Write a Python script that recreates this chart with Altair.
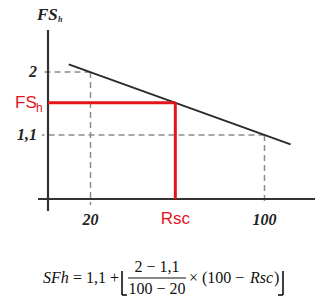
import altair as alt
import pandas as pd

# ---- data ----
x_ticks = [20, 100]
x_tick_labels = ["20", "100"]
y_ticks = [2, 1.1]
y_tick_labels = ["2", "1,1"]
rsc = 59
fsh = 1.56
line_x = [10, 112]
line_y = [2.11, 0.965]

W, H = 326, 302
XS = alt.Scale(domain=[-21.61, 128.28], nice=False, zero=False)
YS = alt.Scale(domain=[-1.2857, 3.0286], nice=False, zero=False)

def X(f):
    return alt.X(f, scale=XS, axis=None)

def Y(f):
    return alt.Y(f, scale=YS, axis=None)

RED = "#e3141c"
GRAY = "#8c8c8c"
DARK = "#2a2a2a"
SERIF = "Liberation Serif"
SANS = "Liberation Sans"

one = pd.DataFrame({"a": [0]})

def txt(text, x, y, size, font=SERIF, style="normal", weight="normal",
        color="#111", align="left", baseline="middle"):
    return alt.Chart(one).mark_text(
        text=text, font=font, fontSize=size, fontStyle=style, fontWeight=weight,
        color=color, align=align, baseline=baseline
    ).encode(x=alt.value(x), y=alt.value(y))

def prule(x, x2, y, y2, color="#111", width=1.0):
    return alt.Chart(one).mark_rule(color=color, strokeWidth=width).encode(
        x=alt.value(x), x2=alt.value(x2), y=alt.value(y), y2=alt.value(y2))

# dashed guides
hdash = alt.Chart(pd.DataFrame({"y": y_ticks, "xend": x_ticks})).mark_rule(
    color=GRAY, strokeWidth=1.5, strokeDash=[6, 4]
).encode(x=X("xend:Q"), x2=alt.value(42), y=Y("y:Q"))

vdash = alt.Chart(pd.DataFrame({"x": x_ticks, "ytop": y_ticks})).mark_rule(
    color=GRAY, strokeWidth=1.5, strokeDash=[6, 4]
).encode(x=X("x:Q"), y=Y("ytop:Q"), y2=alt.value(205))

# axes frame
yaxis = prule(48, 48, 30, 211, color="#333", width=2.2)
xaxis = prule(38, 315, 199, 199, color="#333", width=2.2)

# main line
main = alt.Chart(pd.DataFrame({"x": line_x, "y": line_y})).mark_line(
    color=DARK, strokeWidth=1.8
).encode(x=X("x:Q"), y=Y("y:Q"))

pt = pd.DataFrame({"x": [rsc], "y": [fsh]})
red_h = alt.Chart(pt).mark_rule(color=RED, strokeWidth=3).encode(
    x=X("x:Q"), x2=alt.value(48), y=Y("y:Q"))
red_v = alt.Chart(pt).mark_rule(color=RED, strokeWidth=3).encode(
    x=X("x:Q"), y=Y("y:Q"), y2=alt.value(199))

# tick labels
ylab = alt.Chart(pd.DataFrame({"y": y_ticks, "t": y_tick_labels})).mark_text(
    font=SERIF, fontSize=16, fontStyle="italic", fontWeight="bold", color="#222",
    align="right", baseline="middle"
).encode(x=alt.value(37), y=Y("y:Q"), text="t:N")

xlab = alt.Chart(pd.DataFrame({"x": x_ticks, "t": x_tick_labels})).mark_text(
    font=SERIF, fontSize=16, fontStyle="italic", fontWeight="bold", color="#222",
    align="center", baseline="middle"
).encode(x=X("x:Q"), y=alt.value(220), text="t:N")

rsc_lab = alt.Chart(pt).mark_text(
    text="Rsc", font=SANS, fontSize=17, color=RED, align="center", baseline="middle"
).encode(x=X("x:Q"), y=alt.value(219))

fs_red = alt.Chart(pt).mark_text(
    text="FS", font=SANS, fontSize=17, color=RED, align="left", baseline="middle"
).encode(x=alt.value(15), y=Y("y:Q"))
fs_red_h = alt.Chart(pt).mark_text(
    text="h", font=SANS, fontSize=12, color=RED, align="left", baseline="middle", dy=5
).encode(x=alt.value(36), y=Y("y:Q"))

# top axis title
top_fs = txt("FS", 37, 15, 17, style="italic", weight="bold", color="#222")
top_h = txt("h", 58, 20, 8, style="italic", weight="bold", color="#222")

# formula
f_sfh = txt("SFh", 43, 278, 16, style="italic")
f_eq = txt("= 1,1 +", 73, 278, 16)
f_num = txt("2 − 1,1", 157, 267, 16, align="center")
f_bar = prule(128, 186, 278, 278, width=1)
f_den = txt("100 − 20", 157, 289, 16, align="center")
f_mul = txt("× (100 − ", 189, 278, 16)
f_rsc = txt("Rsc", 250, 278, 16, style="italic")
f_par = txt(")", 274, 278, 16)
lb_v = prule(122, 122, 271, 295, width=1.6)
lb_f = prule(122, 127, 295, 295, width=1.6)
rb_v = prule(283, 283, 271, 295, width=1.6)
rb_f = prule(278, 283, 295, 295, width=1.6)

chart = alt.layer(
    hdash, vdash, yaxis, xaxis, main, red_h, red_v,
    ylab, xlab, rsc_lab, fs_red, fs_red_h, top_fs, top_h,
    f_sfh, f_eq, f_num, f_bar, f_den, f_mul, f_rsc, f_par,
    lb_v, lb_f, rb_v, rb_f
).properties(
    width=W, height=H, padding=0, background="white",
    autosize=alt.AutoSizeParams(type="none")
).configure_view(stroke=None)

chart.save("out.html", embed_options={"renderer": "svg", "actions": False})
